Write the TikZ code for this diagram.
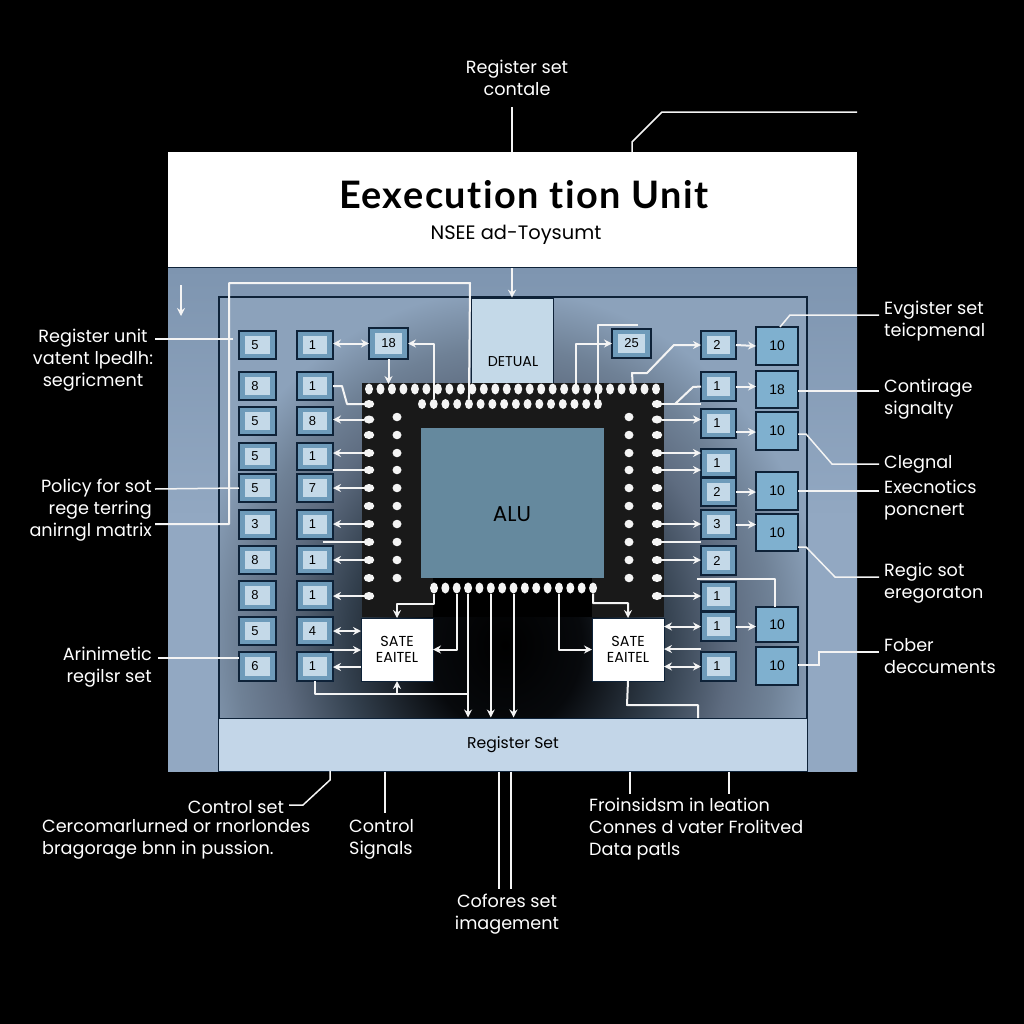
\documentclass[tikz,border=0pt]{standalone}
\usepackage{fontspec}
\setmainfont{Poppins}
\newfontfamily\titlefont[LetterSpace=4,Ligatures=NoCommon]{Lato}
\newfontfamily\numfont{Liberation Sans}
\usetikzlibrary{arrows.meta,shapes.geometric,calc}
\definecolor{panel}{HTML}{92A8C2}
\definecolor{paneltop}{HTML}{7E95B0}
\definecolor{barblue}{HTML}{C3D6E8}
\definecolor{navy}{HTML}{0E2238}
\definecolor{cellblue}{HTML}{6E9BBA}
\definecolor{celllight}{HTML}{C4D9E8}
\definecolor{bigblue}{HTML}{7FB0CF}
\definecolor{alublue}{HTML}{65899E}
\definecolor{gA}{HTML}{07090C}
\definecolor{gB}{HTML}{33404E}
\definecolor{gC}{HTML}{5E6C80}
\definecolor{gD}{HTML}{6F8196}
\definecolor{gE}{HTML}{8CA2BB}
\definecolor{wirew}{HTML}{F4F4F4}
\pgfdeclareradialshading{panelglow}{\pgfpoint{0bp}{0bp}}{color(0bp)=(black);color(6bp)=(gA);color(12.5bp)=(gB);color(17.5bp)=(gC);color(21bp)=(gD);color(25bp)=(gE);color(50bp)=(gE)}
\tikzset{
  cellnode/.style={draw=navy,line width=1.3bp,fill=cellblue,inner sep=0pt,outer sep=0pt,font=\numfont\fontsize{13}{15}\selectfont,text=black,
    path picture={\fill[celllight] ([xshift=6bp,yshift=-5bp]path picture bounding box.north west) rectangle ([xshift=-6bp,yshift=5bp]path picture bounding box.south east);}},
  bignode/.style={draw=navy,line width=1.3bp,fill=bigblue,inner sep=0pt,outer sep=0pt,font=\numfont\fontsize{14}{16}\selectfont,text=black},
  satenode/.style={draw=navy,line width=.6bp,fill=white,inner sep=0pt,outer sep=0pt,align=center,font=\fontsize{14.5}{16}\selectfont,text=black},
  wire/.style={draw=wirew,line width=2bp,line join=round},
  arr/.style={wire,-{Stealth[length=8bp,width=8bp]}},
  darr/.style={wire,{Stealth[length=8bp,width=8bp]}-{Stealth[length=8bp,width=8bp]}},
  leader/.style={draw=wirew,line width=1.5bp},
  dotw/.style={ellipse,fill=wirew,inner sep=0pt,outer sep=0pt,minimum width=10.5bp,minimum height=8bp},
  dott/.style={ellipse,fill=wirew,inner sep=0pt,outer sep=0pt,minimum width=8bp,minimum height=11bp},
  lab/.style={text=white,font=\fontsize{17.7}{22}\selectfont,inner sep=0pt}
}
\newcommand{\cellat}[7][cellnode]{%
  \pgfmathsetmacro\cw{#4-#2}\pgfmathsetmacro\ch{#5-#3}%
  \node[#1,minimum width=\cw bp,minimum height=\ch bp] (#6) at ({(#2+#4)/2},{(#3+#5)/2}) {#7};}
\begin{document}
\begin{tikzpicture}[x=1bp,y=-1bp]
\fill[black] (0,0) rectangle (1024,1024);
\useasboundingbox (0,0) rectangle (1024,1024);
% panels
\shade[top color=paneltop,bottom color=panel,middle color=panel] (168,267) rectangle (857,771);
\node[fill=white,minimum width=689bp,minimum height=115bp,inner sep=0pt] (header) at (512.5,209.5) {};
\draw[navy,line width=1bp] (168,267.5) -- (857,267.5);
\fill[gE] (219,297) rectangle (807,718);
\begin{scope}
\clip (219,297) rectangle (807,718);
\shade[shading=panelglow] (185,290) rectangle (825,1000);
\end{scope}
\draw[navy,line width=1.3bp] (219,718) -- (219,297) -- (807,297) -- (807,771);
\draw[navy,line width=1.3bp] (219,771) -- (219,718);
\node[fill=barblue,draw=navy,line width=1bp,minimum width=588bp,minimum height=53bp,inner sep=0pt,font=\fontsize{15.7}{18}\selectfont,text=black] (bar) at (513,744.5) {Register Set};
% title
\node[font=\titlefont\bfseries\fontsize{38}{42}\selectfont,text=black,inner sep=0pt] (title) at (524,195) {Eexecution tion Unit};
\node[font=\fontsize{19.5}{24}\selectfont,text=black,inner sep=0pt] (subtitle) at (516,235) {NSEE ad-Toysumt};
% detual
\node[fill=celllight,draw=navy,line width=.6bp,minimum width=82bp,minimum height=85bp,inner sep=0pt] (detual) at (512,340.5) {};
\node[font=\fontsize{14.3}{16}\selectfont,text=black,inner sep=0pt] (detualt) at (513,362) {DETUAL};
% chip
\fill[black!90] (362,383) rectangle (664,617);
\fill[black] (433,578) rectangle (592,617);
\node[fill=alublue,minimum width=183bp,minimum height=150bp,inner sep=0pt] (alu) at (512.5,503) {};
\node[font=\fontsize{21.5}{26}\selectfont,text=black,inner sep=0pt] (alut) at (512,514) {ALU};
% dots
\foreach \i/\y in {1/404,2/419.5,3/435,4/453,5/470,6/488,7/506,8/524,9/542,10/560,11/578,12/596}{
  \node[dotw] (lo\i) at (369,\y) {};
  \node[dotw] (ro\i) at (657,\y) {};
}
\foreach \i/\y in {1/417,2/435,3/453,4/470,5/488,6/506,7/524,8/542,9/560,10/578}{
  \node[dotw,minimum width=9bp,minimum height=8.5bp] (li\i) at (397,\y) {};
  \node[dotw,minimum width=9bp,minimum height=8.5bp] (ri\i) at (629,\y) {};
}
\foreach \i in {1,...,26}{\node[dott] (t\i) at ({369+(\i-1)*11.48},389) {};}
\foreach \i in {1,...,16}{\node[dott,minimum height=10bp] (s\i) at ({422+(\i-1)*11.73},404) {};}
\foreach \i in {1,...,15}{\node[dott] (b\i) at ({434+(\i-1)*11.36},588) {};}
% cells, left columns
\foreach \i/\ya/\yb/\ta/\tb in {1/331/359/5/1,2/372/400/8/1,3/407/435/5/8,4/443/470/5/1,5/474/502/5/7,6/510/539/3/1,7/546/574/8/1,8/581/610/8/1,9/617/645/5/4,10/652/681/6/1}{
  \cellat{239}{\ya}{276}{\yb}{a\i}{\hspace*{-5bp}\ta}
  \cellat{297}{\ya}{333}{\yb}{c\i}{\hspace*{-5bp}\tb}
}
\cellat{369}{328}{408}{359}{cell18}{18}
\cellat{612}{329}{651}{358}{cell25}{25}
% right small column
\foreach \i/\ya/\yb/\t in {1/331/359/2,2/372/401/1,3/409/438/1,4/449/477/1,5/478/506/2,6/510/539/3,7/546/575/2,8/582/611/1,9/612/641/1,10/652/681/1}{
  \cellat{701}{\ya}{736}{\yb}{r\i}{\hspace*{-3bp}\t}
}
% right big column
\foreach \i/\ya/\yb/\t in {1/327/365/10,2/371/408/18,3/412/450/10,4/472/510/10,5/514/551/10,6/607/642/10,7/647/685/10}{
  \cellat[bignode]{756}{\ya}{798}{\yb}{q\i}{\t}
}
\node[satenode,minimum width=72bp,minimum height=63bp] (sateL) at (397,649.5) {SATE\\EAITEL};
\node[satenode,minimum width=72bp,minimum height=63bp] (sateR) at (628,649.5) {SATE\\EAITEL};
% named free ends
\coordinate (eTopA) at (512,107);
\coordinate (eTopB) at (857,112);
\coordinate (eL1) at (155,339);
\coordinate (eL2) at (155,489);
\coordinate (eL3) at (155,524);
\coordinate (eL4) at (158,658);
\coordinate (eR1) at (879,315);
\coordinate (eR2) at (879,391);
\coordinate (eR3) at (879,464);
\coordinate (eR4) at (879,491);
\coordinate (eR5) at (879,577);
\coordinate (eR6) at (879,652);
\coordinate (eB1) at (289,805);
\coordinate (eB2) at (385,813);
\coordinate (eB3) at (499,889);
\coordinate (eB4) at (511,889);
\coordinate (eB5) at (630,794);
\coordinate (eB6) at (729,794);
\coordinate (eTick) at (181,285);
\coordinate (eTickB) at (181,316);
\coordinate (eCtoS) at (330,650);
\coordinate (eRtoS) at (701,649);
\coordinate (eLoA) at (333,470);
\coordinate (eLoB) at (323,542);
\coordinate (eRoA) at (701,542);
\coordinate (eRfree) at (697,579);
\coordinate (e25) at (638,325);
% outer leaders
\draw[leader] (eTopA) -- (header.north -| eTopA);
\draw[leader] (eTopB) -- (662,112) -- (632,142) -- (632,152);
\draw[arr] (512,268) -- (detual.north -| 512,268);
\draw[leader] (eL1) -- (233,339);
\draw[leader] (eL2) -- (a5.west);
\draw[leader] (eL4) -- (a10.west |- eL4);
\draw[wire] (eL3) -- (229,524) -- (229,283) -- (470,283) -- (s5);
\draw[arr,line width=1.4bp] (eTick) -- (eTickB);
\draw[leader] (q1.north east) ++(-18bp,0) -- (790,315) -- (eR1);
\draw[leader] (q2.east |- eR2) -- (eR2);
\draw[leader] (q3.east |- 0,434) -- (806,434) -- (832,464) -- (eR3);
\draw[leader] (q4.east |- eR4) -- (eR4);
\draw[leader] (q5.east |- 0,547) -- (806,547) -- (835,577) -- (eR5);
\draw[leader] (q7.east |- 0,665) -- (819,665) -- (819,652) -- (eR6);
\draw[leader] (330,771) -- (330,780) -- (303,805) -- (eB1);
\draw[leader] (bar.south -| eB2) -- (eB2);
\draw[leader] (bar.south -| eB3) -- (eB3);
\draw[leader] (bar.south -| eB4) -- (eB4);
\draw[leader] (bar.south -| eB5) -- (eB5);
\draw[leader] (bar.south -| eB6) -- (eB6);
% left wires
\draw[darr] (c1.east |- cell18.west) -- (cell18.west);
\draw[wire] (c2.east) ++(0,0) -- (342,386) -- (347,404) -- (lo1);
\draw[arr] (lo2) -- (lo2 -| c3.east);
\draw[arr] (lo4) -- (lo4 -| c4.east);
\draw[wire] (lo5) -- (eLoA);
\draw[arr] (lo6) -- (lo6 -| c5.east);
\draw[arr] (lo8) -- (lo8 -| c6.east);
\draw[wire] (lo9) -- (eLoB);
\draw[arr] (lo10) -- (lo10 -| c7.east);
\draw[arr] (lo12) -- (lo12 -| c8.east);
\draw[darr] (c9.east) -- (c9.east -| sateL.west);
\draw[arr] (eCtoS) -- (eCtoS -| sateL.west);
\draw[arr] (sateL.west |- 0,667) -- (c10.east |- 0,667);
\draw[wire] (315,681) -- (315,694) -- (468,694);
\draw[arr] (397,694) -- (sateL.south);
% top wires
\draw[arr] (388.5,359) -- (388.5,384);
\draw[arr] (s2) |- (cell18.east);
\draw[arr] (t19) |- (cell25.west);
\draw[wire] (s16) -- (s16 |- e25) -- (e25);
\draw[arr] (t24) -- (632,373) -- (647,373) -- (674,345) -- (r1.west);
% right wires
\draw[wire] (ro1) -- (ro1 -| r2.west);
\draw[wire] (675,404) -- (693,387) -- (r2.west);
\draw[arr] (ro2) -- (ro2 -| r3.west);
\draw[arr] (ro5) -- (ro5 -| r5.west);
\draw[arr] (ro4) -- (ro4 -| r4.west);
\draw[arr] (ro8) -- (ro8 -| r6.west);
\draw[wire] (ro9) -- (eRoA);
\draw[arr] (ro10) -- (ro10 -| r7.west);
\draw[arr] (ro12) -- (ro12 -| r8.west);
\draw[arr] (r1.east) -- (q1.west);
\draw[arr] (r2.east) -- (q2.west |- r2.east);
\draw[arr] (r3.east |- 0,432) -- (q3.west |- 0,432);
\draw[arr] (r5.east) -- (q4.west |- r5.east);
\draw[arr] (r6.east) -- (q5.west |- r6.east);
\draw[arr] (r9.east) -- (q6.west |- r9.east);
\draw[wire] (eRfree) -- (775,579) -- (q6.north -| 775,0);
\draw[darr] (sateR.east |- r9.east) -- (r9.west);
\draw[arr] (eRtoS) -- (eRtoS -| sateR.east);
\draw[darr] (sateR.east |- r10.west) -- (r10.west);
\draw[wire] (sateR.south) -- (627,705) -- (698,705) -- (698,718);
% bottom chip wires
\draw[arr] (b1) -- (434,604) -- (397,604) -- (sateL.north);
\draw[arr] (b3) |- (sateL.east);
\draw[arr] (b4) -- (b4 |- bar.north);
\draw[arr] (b6) -- (b6 |- bar.north);
\draw[arr] (b8) -- (b8 |- bar.north);
\draw[arr] (b12) |- (sateR.west);
\draw[arr] (b15) -- (593,603) -- (628,603) -- (sateR.north);
% labels
\node[lab,align=center] (l1) at (517,78) {Register set\\contale};
\node[lab,align=center] (l2) at (93,360) {Register unit\\vatent lpedlh:\\segricment};
\node[lab,align=right,anchor=east] (l3) at (152,510) {Policy for sot\\rege terring\\anirngl matrix};
\node[lab,align=right,anchor=east] (l4) at (152,667) {Arinimetic\\regilsr set};
\node[lab,align=left,anchor=west] (l5) at (884,321) {Evgister set\\teicpmenal};
\node[lab,align=left,anchor=west] (l6) at (884,399) {Contirage\\signalty};
\node[lab,align=left,anchor=west] (l7) at (884,464) {Clegnal};
\node[lab,align=left,anchor=west] (l8) at (884,500) {Execnotics\\poncnert};
\node[lab,align=left,anchor=west] (l9) at (884,583) {Regic sot\\eregoraton};
\node[lab,align=left,anchor=west] (l10) at (884,656) {Fober\\deccuments};
\node[lab] (l11) at (236,807) {Control set};
\node[lab,align=left,anchor=west] (l12) at (42,839) {Cercomarlurned or rnorlondes\\bragorage bnn in pussion.};
\node[lab,align=left,anchor=west] (l13) at (349,839) {Control\\Signals};
\node[lab,align=left,anchor=west] (l14) at (589,829) {Froinsidsm in leation\\Connes d vater Frolitved\\Data patls};
\node[lab,align=center] (l15) at (507,914) {Cofores set\\imagement};
\end{tikzpicture}
\end{document}
